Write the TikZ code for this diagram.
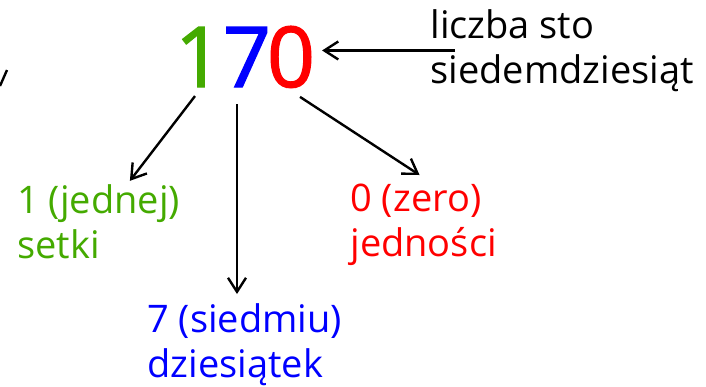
\documentclass[tikz,border=0pt]{standalone}
\usepackage{fontspec}
\setmainfont{Open Sans}
\newfontfamily\digitfont[FakeBold=1.6]{Open Sans}
\usepackage{xcolor}
\usepackage{tikz}
\usetikzlibrary{arrows.meta}
\definecolor{setkigreen}{RGB}{68,170,0}
\definecolor{dzblue}{RGB}{0,0,255}
\definecolor{jedred}{RGB}{255,0,0}
\tikzset{
  digit/.style={font=\digitfont\fontsize{42}{42}\selectfont, anchor=base},
  label/.style={font=\fontsize{19}{22.5}\selectfont, align=left, anchor=north west, inner sep=0pt},
  arr/.style={->, line width=1.2pt, >={Straight Barb[length=7pt,width=9pt]}}
}

\begin{document}
\begin{tikzpicture}[x=0.5pt,y=-0.5pt]
		\useasboundingbox (0,0) rectangle (706,386);
		% liczba
		\node[digit, text=setkigreen] (one) at (199,87) {1};
		\node[digit, text=dzblue] (seven) at (247,87) {7};
		\node[digit, text=jedred] (zero) at (291,87) {0};
		%
		\node[label] (liczba) at (430,9) {liczba sto\\siedemdziesiąt};
		\node[label, text=setkigreen] (setki) at (17,184) {1 (jednej)\\setki};
		\node[label, text=dzblue] (siedmiu) at (147,303) {7 (siedmiu)\\dziesiątek};
		\node[label, text=jedred] (jednosci) at (350,184) {0 (zero)\\jedności};
		%
		\draw[arr] ([xshift=12.5pt]liczba.west) -- (zero.east |- liczba.west);
		\draw[arr, shorten >=2pt] ([xshift=-2pt,yshift=-1pt]one.south) -- (setki);
		\draw[arr] ([xshift=-5pt,yshift=-5pt]seven.south) -- ([xshift=-5pt,yshift=4.5pt]seven.south |- siedmiu.north);
		\draw[arr] ([xshift=4.5pt,yshift=-1pt]zero.south) -- ([xshift=-2pt,yshift=4.5pt]jednosci.north);
		%
		\draw[line width=1.2pt] (0,86) -- (7,70);
	\end{tikzpicture}
\end{document}
